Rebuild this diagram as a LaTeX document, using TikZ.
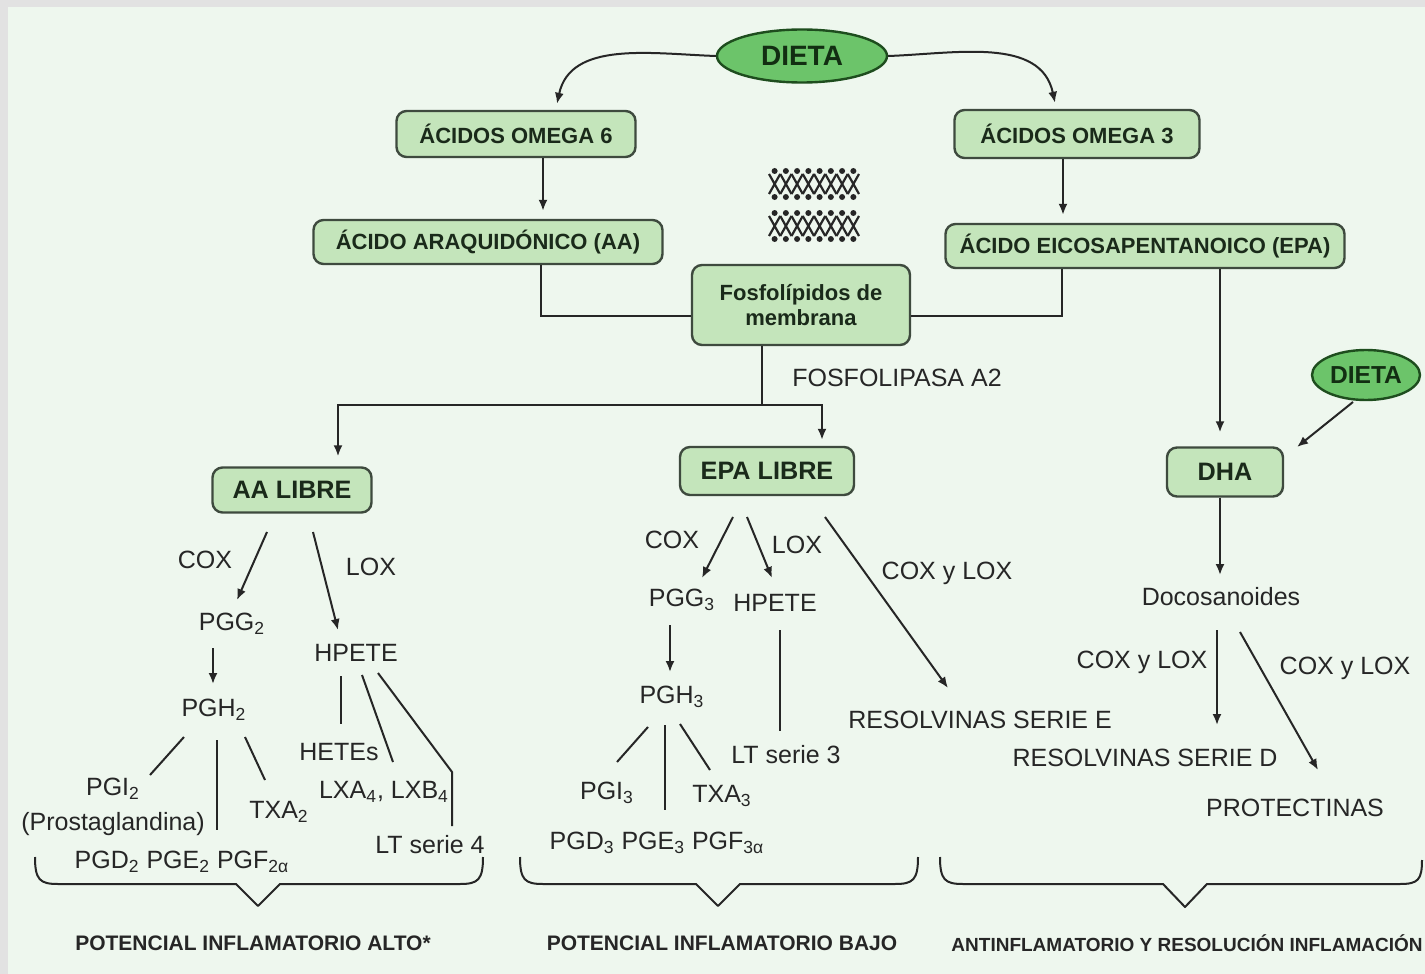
\documentclass[tikz,border=0pt]{standalone}
\usepackage{fontspec}
\setmainfont{Liberation Sans}
\usetikzlibrary{arrows.meta,calc,shapes.geometric}
\definecolor{panel}{HTML}{EEF7EE}
\definecolor{framegray}{HTML}{E2E2E2}
\definecolor{boxfill}{HTML}{C4E5BB}
\definecolor{boxline}{HTML}{3E4A3E}
\definecolor{ovalfill}{HTML}{6CC46A}
\definecolor{ovalline}{HTML}{1E4D1E}
\definecolor{ink}{HTML}{262626}
\definecolor{boxtext}{HTML}{1A2A1A}
\newcommand\sbs[1]{\textsubscript{#1}}
\tikzset{
  greenbox/.style={draw=boxline, line width=1.2pt, fill=boxfill, rounded corners=5pt,
    inner sep=0pt, text=boxtext, font=\bfseries\fontsize{11}{12.5}\selectfont, align=center},
  bigbox/.style={greenbox, font=\bfseries\fontsize{12.6}{14}\selectfont},
  oval/.style={ellipse, draw=ovalline, line width=1.2pt, fill=ovalfill, inner sep=0pt,
    text=ovalline!60!black, font=\bfseries\fontsize{14}{16}\selectfont},
  lbl/.style={inner sep=1pt, text=ink, font=\fontsize{12.5}{14}\selectfont},
  foot/.style={inner sep=1pt, text=ink, font=\bfseries\fontsize{10.5}{12}\selectfont},
  link/.style={draw=ink, line width=1pt},
  arr/.style={link, -{Latex[length=5.5pt,width=4.5pt]}},
  brace/.style={draw=ink, line width=1pt, line join=round},
}
\begin{document}
\begin{tikzpicture}[x=0.5pt,y=-0.5pt]
\useasboundingbox (0,0) rectangle (1425,974);
\fill[framegray] (0,0) rectangle (1425,974);
\fill[panel] (8,7) rectangle (1425,974);

% lipid bilayer icon
\foreach \yt in {168,210}{
  \foreach \i in {0,...,7}{
    \pgfmathsetmacro\xa{769+\i*11.25}
    \pgfmathsetmacro\xb{\xa+11.25}
    \draw[ink, line width=1.1pt] (\xa,\yt+6) -- (\xb,\yt+26) (\xb,\yt+6) -- (\xa,\yt+26);
    \fill[ink] (\xa+5.6,\yt+3) circle (1.5pt) (\xa+5.6,\yt+29) circle (1.5pt);
  }
}

% boxes and ovals
\node[oval, minimum width=85pt, minimum height=26.5pt] (dieta) at (802,56) {DIETA};
\node[greenbox, minimum width=119.5pt, minimum height=23pt] (o6) at (516,134) {ÁCIDOS OMEGA 6};
\node[greenbox, minimum width=122.5pt, minimum height=24pt] (o3) at (1077,134) {ÁCIDOS OMEGA 3};
\node[greenbox, minimum width=174.5pt, minimum height=22pt] (aa) at (488,242) {ÁCIDO ARAQUIDÓNICO (AA)};
\node[greenbox, minimum width=199.5pt, minimum height=22pt] (epa) at (1145,246) {ÁCIDO EICOSAPENTANOICO (EPA)};
\node[greenbox, minimum width=109pt, minimum height=40pt] (fos) at (801,305) {Fosfolípidos de\\membrana};
\node[bigbox, minimum width=79.5pt, minimum height=22.5pt] (aal) at (292,490) {AA LIBRE};
\node[bigbox, minimum width=87pt, minimum height=24pt] (epal) at (767,471) {EPA LIBRE};
\node[bigbox, minimum width=58pt, minimum height=24.5pt] (dha) at (1225,472) {DHA};
\node[oval, minimum width=54pt, minimum height=25pt, font=\bfseries\fontsize{12.3}{14}\selectfont] (dieta2) at (1366,375) {DIETA};

% text labels
\node[lbl] (fla2) at (897,378) {FOSFOLIPASA A2};
\node[lbl] (cox1) at (205,560) {COX};
\node[lbl] (lox1) at (371,567) {LOX};
\node[lbl] (pgg2) at (232,624) {PGG\sbs{2}};
\node[lbl] (pgh2) at (214,710) {PGH\sbs{2}};
\node[lbl] (hpete1) at (356,653) {HPETE};
\node[lbl] (pgi2) at (113,789) {PGI\sbs{2}};
\node[lbl] (prost) at (113,824) {(Prostaglandina)};
\node[lbl] (txa2) at (279,812) {TXA\sbs{2}};
\node[lbl] (pgd2) at (182,862) {PGD\sbs{2} PGE\sbs{2} PGF\sbs{2α}};
\node[lbl] (hetes) at (339,752) {HETEs};
\node[lbl] (lxa) at (384,792) {LXA\sbs{4}, LXB\sbs{4}};
\node[lbl] (lt4) at (430,845) {LT serie 4};

\node[lbl] (cox2) at (672,540) {COX};
\node[lbl] (lox2) at (797,545) {LOX};
\node[lbl] (coxlox1) at (947,573) {COX y LOX};
\node[lbl] (pgg3) at (682,600) {PGG\sbs{3}};
\node[lbl] (hpete2) at (775,603) {HPETE};
\node[lbl] (pgh3) at (672,697) {PGH\sbs{3}};
\node[lbl] (lt3) at (786,755) {LT serie 3};
\node[lbl] (pgi3) at (607,793) {PGI\sbs{3}};
\node[lbl] (txa3) at (722,796) {TXA\sbs{3}};
\node[lbl] (pgd3) at (657,843) {PGD\sbs{3} PGE\sbs{3} PGF\sbs{3α}};
\node[lbl] (rese) at (980,720) {RESOLVINAS SERIE E};

\node[lbl] (doco) at (1221,597) {Docosanoides};
\node[lbl] (coxlox2) at (1142,662) {COX y LOX};
\node[lbl] (coxlox3) at (1345,668) {COX y LOX};
\node[lbl] (resd) at (1145,758) {RESOLVINAS SERIE D};
\node[lbl] (prot) at (1295,808) {PROTECTINAS};

\node[foot] (potalto) at (253,943) {POTENCIAL INFLAMATORIO ALTO*};
\node[foot] (potbajo) at (722,943) {POTENCIAL INFLAMATORIO BAJO};
\node[foot, font=\bfseries\fontsize{9.5}{11}\selectfont] (antiinf) at (1187,943) {ANTINFLAMATORIO Y RESOLUCIÓN INFLAMACIÓN};

% diet to fatty acids
\draw[arr] (dieta.west) to[out=178,in=78] ($(o6.north)+(41,-6)$);
\draw[arr] (dieta.east) to[out=2,in=102] ($(o3.north)+(-22,-6)$);
\draw[arr] ($(o6.south)+(27,0)$) -- ($(aa.north)+(55,-8)$);
\draw[arr] ($(o3.south)+(-14,0)$) -- ($(epa.north)+(-82,-8)$);

% incorporation into membrane phospholipids
\draw[link] ($(aa.south)+(53,0)$) |- ($(fos.west)+(0,11)$);
\draw[link] ($(epa.south)+(-83,0)$) |- ($(fos.east)+(0,11)$);

% phospholipase A2 release
\coordinate (fsplit) at ($(fos.south)+(-39,59)$);
\draw[link] ($(fos.south)+(-39,0)$) -- (fsplit);
\draw[arr] (fsplit) -| ($(aal.north)+(46,-10)$);
\draw[arr] (fsplit) -| ($(epal.north)+(55,-6)$);

% EPA to DHA
\draw[arr] ($(epa.south)+(75,0)$) -- ($(dha.north)+(-5,-14)$);
\draw[arr] ($(dieta2)+(-13,27)$) -- ($(dha)+(72,-25)$);

% free AA cascade
\draw[arr] ($(aal)+(-25,42)$) -- ($(pgg2)+(5,-24)$);
\draw[arr] ($(aal)+(21,42)$) -- ($(hpete1)+(-18,-23)$);
\draw[arr] ($(pgg2)+(-19,24)$) -- ($(pgh2)+(-1,-26)$);
\draw[link] ($(pgh2)+(-30,27)$) -- ($(pgi2)+(37,-14)$);
\draw[link] ($(pgh2)+(3,30)$) -- ($(pgd2)+(35,-32)$);
\draw[link] ($(pgh2)+(31,27)$) -- ($(txa2)+(-14,-32)$);
\draw[link] ($(hpete1)+(-15,23)$) -- ($(hetes)+(2,-28)$);
\draw[link] ($(hpete1)+(6,22)$) -- ($(lxa)+(9,-30)$);
\draw[link] ($(hpete1)+(22,20)$) -- ($(lt4)+(22,-73)$) -- ($(lt4)+(22,-19)$);

% free EPA cascade
\draw[arr] ($(epal)+(-34,46)$) -- ($(pgg3)+(20,-22)$);
\draw[arr] ($(epal)+(-20,46)$) -- ($(hpete2)+(-3,-25)$);
\draw[arr] ($(epal)+(58,46)$) -- ($(rese)+(-32,-32)$);
\draw[arr] ($(pgg3)+(-12,25)$) -- ($(pgh3)+(-2,-25)$);
\draw[link] ($(hpete2)+(5,27)$) -- ($(lt3)+(-6,-24)$);
\draw[link] ($(pgh3)+(-24,30)$) -- ($(pgi3)+(10,-31)$);
\draw[link] ($(pgh3)+(-7,28)$) -- ($(pgd3)+(8,-33)$);
\draw[link] ($(pgh3)+(8,27)$) -- ($(txa3)+(-12,-26)$);

% DHA cascade
\draw[arr] ($(dha.south)+(-5,0)$) -- ($(doco)+(-1,-22)$);
\draw[arr] ($(doco)+(-4,33)$) -- ($(resd)+(72,-33)$);
\draw[arr] ($(doco)+(19,35)$) -- ($(prot)+(23,-38)$);

% grouping braces
\draw[brace] (35,857) .. controls (35,880) and (40,884) .. (58,884) -- (236,884) -- (258,906)
  -- (280,884) -- (460,884) .. controls (478,884) and (483,880) .. (483,857);
\draw[brace] (520,857) .. controls (520,880) and (525,884) .. (543,884) -- (696,884) -- (718,906)
  -- (740,884) -- (895,884) .. controls (913,884) and (918,880) .. (918,857);
\draw[brace] (940,857) .. controls (940,880) and (945,884) .. (963,884) -- (1163,884) -- (1185,907)
  -- (1207,884) -- (1400,884) .. controls (1418,884) and (1422,880) .. (1422,860);
\end{tikzpicture}
\end{document}
